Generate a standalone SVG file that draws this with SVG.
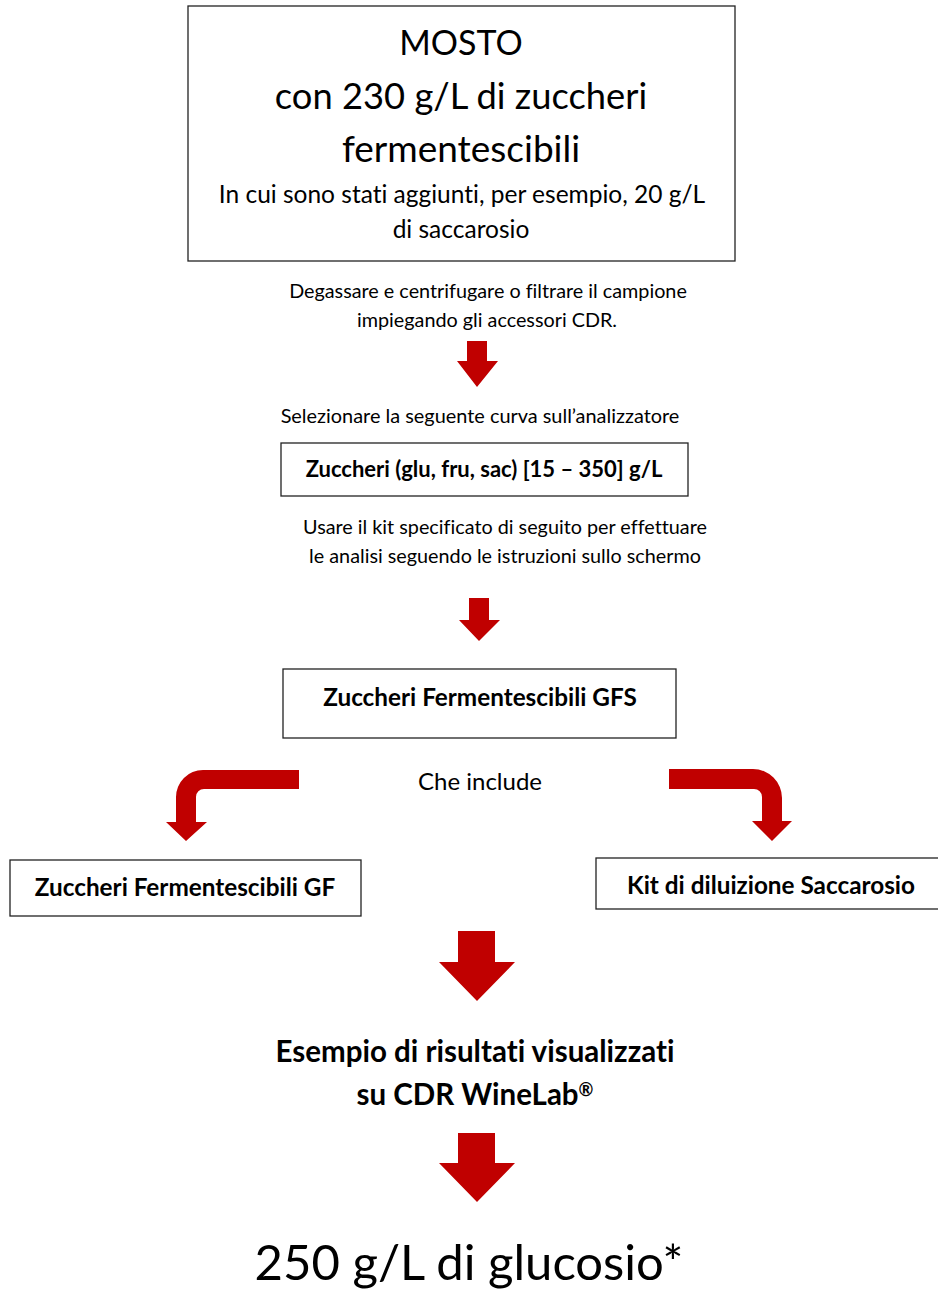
<svg xmlns="http://www.w3.org/2000/svg" width="938" height="1292" viewBox="0 0 938 1292">
<style>
.box{fill:#fff;stroke:#222;stroke-width:1.3}
.t{font-family:Lato,"Open Sans","Liberation Sans",sans-serif;fill:#000;text-anchor:middle;font-variant-ligatures:none}
.b{font-weight:bold}
.arr{fill:#C00000}
</style>
<rect width="938" height="1292" fill="#fff"/>
<g id="n-mosto">
<rect class="box" x="188" y="6" width="547" height="255"/>
<text class="t" x="461" y="55" font-size="34">MOSTO</text>
<text class="t" x="461" y="109" font-size="36.3">con 230 g/L di zuccheri</text>
<text class="t" x="461" y="162" font-size="37">fermentescibili</text>
<text class="t" x="462" y="203" font-size="24.5">In cui sono stati aggiunti, per esempio, 20 g/L</text>
<text class="t" x="461" y="238" font-size="24.5">di saccarosio</text>
</g>
<g id="n-degassare">
<text class="t" x="488" y="298" font-size="19.8">Degassare e centrifugare o filtrare il campione</text>
<text class="t" x="487" y="327" font-size="19.8">impiegando gli accessori CDR.</text>
</g>
<g id="n-selezionare">
<text class="t" x="480" y="423" font-size="19.9">Selezionare la seguente curva sull’analizzatore</text>
</g>
<g id="n-curva">
<rect class="box" x="281" y="443" width="407" height="53"/>
<text class="t b" x="484" y="477" font-size="22">Zuccheri (glu, fru, sac) [15 – 350] g/L</text>
</g>
<g id="n-usare">
<text class="t" x="505" y="534" font-size="19.8">Usare il kit specificato di seguito per effettuare</text>
<text class="t" x="505" y="563" font-size="19.8">le analisi seguendo le istruzioni sullo schermo</text>
</g>
<g id="n-gfs">
<rect class="box" x="283" y="669" width="393" height="69"/>
<text class="t b" x="480" y="706" font-size="24.3">Zuccheri Fermentescibili GFS</text>
</g>
<g id="n-che">
<text class="t" x="480" y="790" font-size="24">Che include</text>
</g>
<g id="n-gf">
<rect class="box" x="10" y="860" width="351" height="56"/>
<text class="t b" x="185" y="896" font-size="24.3">Zuccheri Fermentescibili GF</text>
</g>
<g id="n-kit">
<rect class="box" x="596" y="858" width="345" height="51"/>
<text class="t b" x="771" y="894" font-size="24.3">Kit di diluizione Saccarosio</text>
</g>
<g id="n-esempio">
<text class="t b" x="475" y="1062" font-size="29.5">Esempio di risultati visualizzati</text>
<text class="t b" x="475" y="1105" font-size="29.5">su CDR WineLab<tspan font-size="18" dy="-9">®</tspan></text>
</g>
<g id="n-result">
<text class="t" x="469" y="1280" font-size="49">250 g/L di glucosio*</text>
</g>
<g id="connectors">
<path class="arr" d="M467,341 H487 V361 H498 L477,387 L457,361 H467 Z"/>
<path class="arr" d="M469,598 H489 V620 H500 L479,641 L459,620 H469 Z"/>
<path class="arr" d="M299,770 L203,770 A27,27 0 0 0 176,797 L176,822 L166,822 L186,841 L207,822 L196,822 L196,797 A8,8 0 0 1 204,789 L299,789 Z"/>
<path class="arr" d="M669,769 L753,769 A29,29 0 0 1 782,798 L782,821 L792,821 L772,841 L752,821 L762,821 L762,797 A8,8 0 0 0 754,789 L669,789 Z"/>
<path class="arr" d="M458,931 H495 V962 H515 L477,1001 L439,962 H458 Z"/>
<path class="arr" d="M458,1133 H495 V1163 H515 L477,1202 L439,1163 H458 Z"/>
</g>
</svg>
